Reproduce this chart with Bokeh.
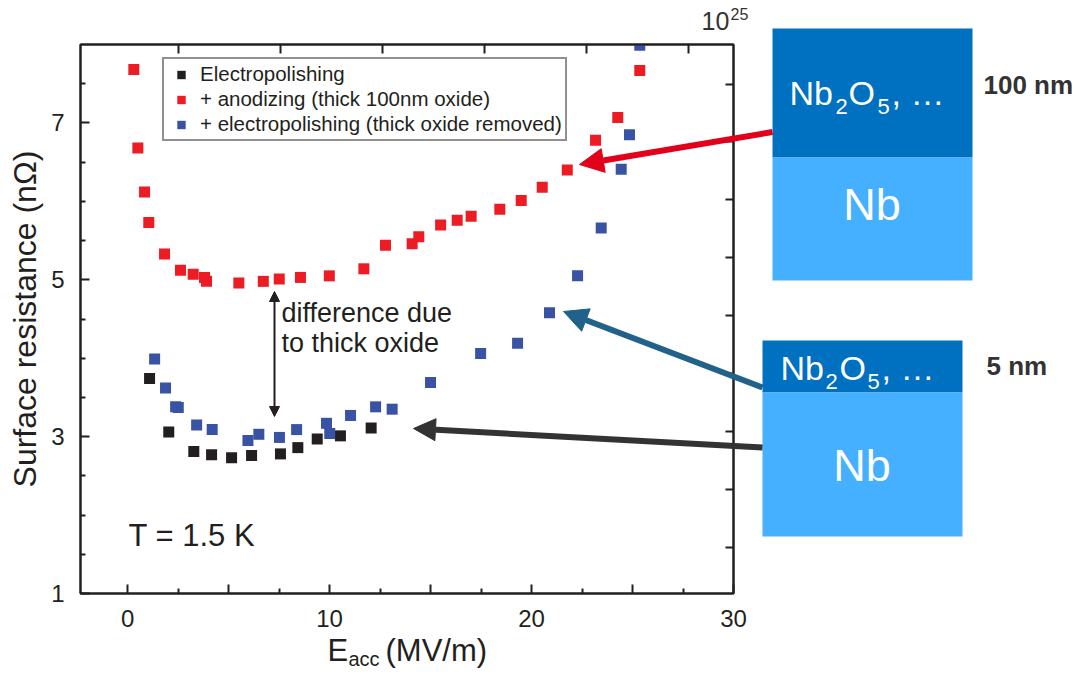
import numpy as np
from bokeh.plotting import figure
from bokeh.layouts import column, row
from bokeh.models import Label, Arrow, NormalHead, BoxAnnotation, FixedTicker, LinearAxis, Range1d
from bokeh.embed import file_html
from bokeh.resources import INLINE

# ---------------- data ----------------
ep_x = [1.09, 2.04, 3.28, 4.16, 5.15, 6.14, 7.57, 8.43, 9.39, 10.54, 12.06]
ep_y = [3.74, 3.06, 2.81, 2.77, 2.73, 2.76, 2.78, 2.86, 2.97, 3.01, 3.11]

an_x = [0.31, 0.51, 0.84, 1.05, 1.83, 2.62, 3.25, 3.81, 3.91, 5.51, 6.72, 7.51, 8.56, 9.99,
        11.70, 12.77, 14.09, 14.42, 15.50, 16.32, 17.01, 18.43, 19.49, 20.53, 21.77, 23.17,
        24.27, 25.36]
an_y = [7.68, 6.68, 6.12, 5.73, 5.33, 5.12, 5.07, 5.03, 4.98, 4.96, 4.98, 5.01, 5.03, 5.05,
        5.14, 5.44, 5.46, 5.55, 5.70, 5.76, 5.81, 5.90, 6.01, 6.18, 6.40, 6.78, 7.07, 7.67]

rem_x = [1.34, 1.88, 2.38, 2.51, 3.42, 4.19, 5.96, 6.50, 7.52, 8.37, 9.85, 10.01, 11.04, 12.28,
         13.10, 15.00, 17.48, 19.31, 20.89, 22.28, 23.45, 24.44, 24.85, 25.36]
rem_y = [3.99, 3.62, 3.38, 3.37, 3.15, 3.09, 2.95, 3.03, 2.99, 3.09, 3.17, 3.04, 3.27, 3.38,
         3.35, 3.69, 4.06, 4.19, 4.58, 5.05, 5.66, 6.41, 6.85, 7.99]

series_labels = ["Electropolishing",
                 "+ anodizing (thick 100nm oxide)",
                 "+ electropolishing (thick oxide removed)"]

x_major = [0, 5, 10, 15, 20, 25, 30]
x_minor = [2.5, 7.5, 12.5, 17.5, 22.5, 27.5]
x_labels = {0: "0", 5: "", 10: "10", 15: "", 20: "20", 25: "", 30: "30"}
y_major = [1, 3, 5, 7]
y_minor = [1.5, 2, 2.5, 3.5, 4, 4.5, 5.5, 6, 6.5, 7.5]
top_ticks = [2.5, 7.55, 12.6, 17.65, 22.7, 27.75]
right_ticks = [1.59, 2.33, 3.07, 3.81, 4.54, 5.28, 6.02, 6.76, 7.49]

FONT = "Liberation Sans"
INK = "#231F20"
RED = "#ED1C24"
BLUE = "#3953A4"

W, H = 1080, 674
# chart frame in page pixels: left=80, top=44, right=733, bottom=593
p = figure(width=W, height=H, x_range=Range1d(-2.33, 30), y_range=Range1d(1, 8),
           output_backend="svg", toolbar_location=None,
           min_border_left=80, min_border_right=W - 733, min_border_top=44, min_border_bottom=H - 593)
p.xgrid.visible = False
p.ygrid.visible = False
p.outline_line_color = INK
p.outline_line_width = 2
p.background_fill_color = "white"
p.border_fill_color = "white"

def style_axis(ax, major_in=9, minor_in=5):
    ax.axis_line_color = INK
    ax.axis_line_width = 2
    ax.major_tick_line_color = INK
    ax.major_tick_line_width = 2
    ax.minor_tick_line_color = INK
    ax.minor_tick_line_width = 2
    ax.major_tick_in = major_in
    ax.major_tick_out = 0
    ax.minor_tick_in = minor_in
    ax.minor_tick_out = 0
    ax.major_label_text_font = FONT
    ax.major_label_text_font_size = "24px"
    ax.major_label_text_color = INK

xa = p.xaxis[0]
xa.ticker = FixedTicker(ticks=x_major, minor_ticks=x_minor)
xa.major_label_overrides = x_labels
style_axis(xa)
xa.major_label_standoff = 16

ya = p.yaxis[0]
ya.ticker = FixedTicker(ticks=y_major, minor_ticks=y_minor)
style_axis(ya)
ya.major_label_standoff = 16
ya.axis_label = "Surface resistance (n\u03a9)"
ya.axis_label_text_font = FONT
ya.axis_label_text_font_size = "32px"
ya.axis_label_text_font_style = "normal"
ya.axis_label_text_color = INK
ya.axis_label_standoff = 5

top = LinearAxis(ticker=FixedTicker(ticks=top_ticks))
style_axis(top)
top.major_label_overrides = {t: "" for t in top_ticks}
top.major_label_standoff = 0
p.add_layout(top, "above")

right = LinearAxis(ticker=FixedTicker(ticks=right_ticks))
style_axis(right, major_in=8)
right.major_label_overrides = {t: "" for t in right_ticks}
right.major_label_standoff = 0
p.add_layout(right, "right")

# ---------------- data marks ----------------
p.scatter(ep_x, ep_y, marker="square", size=11, fill_color=INK, line_color=None,
          legend_label=series_labels[0])
p.scatter(an_x, an_y, marker="square", size=11, fill_color=RED, line_color=None,
          legend_label=series_labels[1])
p.scatter(rem_x, rem_y, marker="square", size=11, fill_color=BLUE, line_color=None,
          legend_label=series_labels[2])

leg = p.legend[0]
leg.location = (162 - 80, 593 - 141)
leg.margin = 0
leg.padding = 3
leg.spacing = 1
leg.glyph_width = 28
leg.glyph_height = 21
leg.label_height = 21
leg.label_standoff = 5
leg.label_text_font = FONT
leg.label_text_font_size = "20.5px"
leg.label_text_color = INK
leg.border_line_color = INK
leg.border_line_width = 2
leg.background_fill_alpha = 1

# ---------------- overlay drawing layer (page-pixel coordinates) ----------------
o = figure(width=W, height=H, x_range=Range1d(0, W), y_range=Range1d(H, 0),
           output_backend="svg", toolbar_location=None, min_border=0,
           x_axis_location=None, y_axis_location=None)
o.grid.visible = False
o.outline_line_color = None
o.background_fill_color = None
o.border_fill_color = None

BASE_SHIFT = 0.4  # Label baseline correction (fraction of font size)

def lab(text, x, y, size, color=INK, align="left", bold=False):
    o.add_layout(Label(x=x, y=y - BASE_SHIFT * size, text=text, text_font=FONT,
                       text_font_size=f"{size}px", text_color=color, text_align=align,
                       text_baseline="alphabetic",
                       text_font_style="bold" if bold else "normal"))

def box(l, t, r, b, color):
    o.add_layout(BoxAnnotation(left=l, right=r, top=t, bottom=b,
                               fill_color=color, fill_alpha=1, line_color=None))

def arrow(x0, y0, x1, y1, color, width, head, both=False):
    o.add_layout(Arrow(x_start=x0, y_start=y0, x_end=x1, y_end=y1,
                       line_color=color, line_width=width,
                       start=NormalHead(size=head, fill_color=color, line_color=color) if both else None,
                       end=NormalHead(size=head, fill_color=color, line_color=color)))

DARK = "#0070C0"
LIGHT = "#45B0FF"
GREY = "#333333"

box(772, 28, 972, 157, DARK)
box(772, 157, 972, 280, LIGHT)
box(762, 340, 962, 392, DARK)
box(762, 392, 962, 536, LIGHT)

# x-axis title with subscript
lab("E", 327, 662, 31)
lab("acc", 348, 666, 20)
lab("(MV/m)", 385, 662, 31)

lab("10", 701, 30, 25, color=GREY)
lab("25", 730, 19.5, 16, color=GREY)

lab("T = 1.5 K", 128, 547, 31)
lab("difference due", 281, 323, 27)
lab("to thick oxide", 281, 353, 27)

# oxide layer sketches
lab("Nb", 789, 106, 34, color="white")
lab("2", 835, 115, 22, color="white")
lab("O", 848, 106, 34, color="white")
lab("5", 877, 115, 22, color="white")
lab(", \u2026", 891, 106, 34, color="white")
lab("Nb", 871.5, 222, 45, color="white", align="center")
lab("100 nm", 983, 95, 26, color=GREY, bold=True)

lab("Nb", 780, 381, 34, color="white")
lab("2", 825, 390, 22, color="white")
lab("O", 839, 381, 34, color="white")
lab("5", 867, 390, 22, color="white")
lab(", \u2026", 881, 381, 34, color="white")
lab("Nb", 861.5, 483, 45, color="white", align="center")
lab("5 nm", 986, 376, 26, color=GREY, bold=True)

arrow(274, 416, 274, 291, INK, 2, 10, both=True)
arrow(772, 131.5, 579, 164, "#E2001A", 6, 24)
arrow(762, 387, 563, 311, "#22628A", 6, 24)
arrow(762, 447, 413, 428, "#333333", 6, 22)

holder = row(o, spacing=0)
holder.margin = (-H, 0, 0, 0)
page = column(p, holder, spacing=0)
open("out.html", "w").write(file_html(page, INLINE))
